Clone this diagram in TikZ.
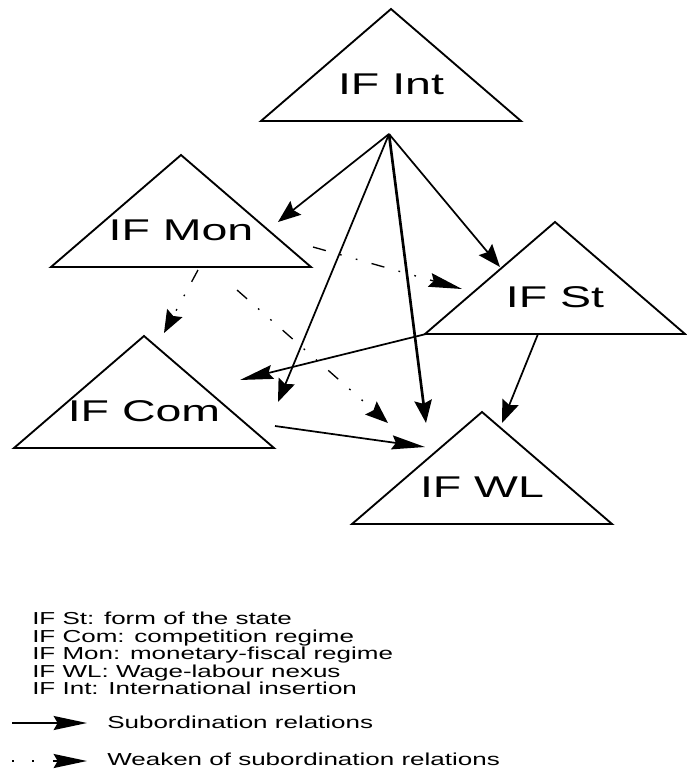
\documentclass[tikz,border=0pt]{standalone}
\usepackage{fontspec}
\newfontfamily\labfont[FakeStretch=1.55]{Liberation Sans}
\newfontfamily\keyfont[FakeStretch=1.5]{Liberation Sans}
\usetikzlibrary{arrows.meta, positioning, calc}

\tikzset{
  tri/.style={draw, line width=1.4pt, line join=miter},
  lab/.style={font=\labfont\fontsize{22.5}{26}\selectfont, anchor=base, inner sep=0pt},
  key/.style={font=\keyfont\fontsize{13}{13}\selectfont, anchor=base west, inner sep=0pt},
  sub/.style={line width=1.3pt, -{Stealth[length=17pt, width=13pt, inset=2.5pt]}},
  subh/.style={line width=1.3pt, -{Stealth[length=25pt, width=10.5pt, inset=3pt]}},
  weak/.style={line width=1pt, dash pattern=on 10pt off 11pt on 1.3pt off 11pt on 1.3pt off 11pt,
    -{Stealth[length=17pt, width=13pt, inset=2.5pt]}},
  weakh/.style={weak, -{Stealth[length=25pt, width=10.5pt, inset=3pt]}}
}

\begin{document}
\begin{tikzpicture}[x=0.75pt, y=-0.75pt]
  \useasboundingbox (0,0) rectangle (686,771);

  % institutional forms
  \foreach \n/\x/\y/\t in {int/391/121/IF Int, mon/181/267/IF Mon, st/555/334/IF St,
                           com/144/448/IF Com, wl/482/524/IF WL}{
    \coordinate (\n) at (\x,\y);
    \draw[tri] ($(\n)+(-130,0)$) -- ($(\n)+(0,-112)$) -- ($(\n)+(130,0)$) -- cycle;
    \node[lab] (\n-lab) at ($(\n)+(0,-27)$) {\t};
  }

  % subordination relations
  \coordinate (int-src) at ($(int)+(-2,13)$);
  \draw[sub] (int-src) -- ($(mon)+(97,-45)$);
  \draw[sub] (int-src) -- ($(st)+(-55,-67)$);
  \draw[sub] (int-src) -- ($(com)+(134,-46)$);
  \draw[sub, line width=2pt] (int-src) -- ($(wl)+(-56,-101)$);
  \draw[subh] ($(st)+(-129,0)$) -- ($(com)+(96,-68)$);
  \draw[sub] ($(st)+(-17,0)$) -- ($(wl)+(20,-101)$);
  \draw[subh] ($(com)+(131,-22)$) -- ($(wl)+(-57,-77)$);

  % weakened relations
  \draw[weakh] ($(mon)+(132,-20)$) -- ($(st)+(-93,-45)$);
  \draw[weak] ($(mon)+(17,3)$) -- ($(com)+(20,-115)$);
  \draw[weak] ($(mon)+(56,23)$) -- ($(wl)+(-94,-101)$);

  % legend
  \foreach \t [count=\i] in {IF St: form of the state, IF Com: competition regime,
      IF Mon: monetary-fiscal regime, IF WL: Wage-labour nexus, IF Int: International insertion}
    \node[key] (key\i) at (32,607.5+17.4*\i) {\t};

  \coordinate (sub-a) at (12,723);
  \coordinate (sub-b) at (87,723);
  \draw[subh] (sub-a) -- (sub-b);
  \node[key] (sub-txt) at (107,728) {Subordination relations};

  \coordinate (weak-a) at (12,761);
  \coordinate (weak-b) at (87,761);
  \draw[subh, dash pattern=on 1.3pt off 14pt on 1.3pt off 14pt on 40pt] (weak-a) -- (weak-b);
  \node[key] (weak-txt) at (107,765) {Weaken of subordination relations};
\end{tikzpicture}
\end{document}
